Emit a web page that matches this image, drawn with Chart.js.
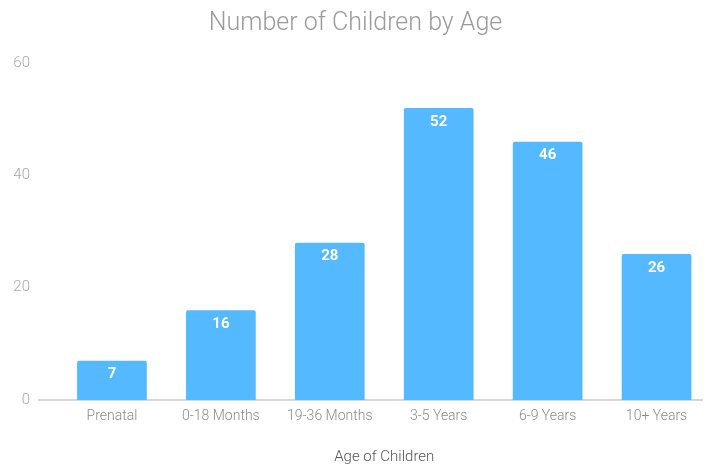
<!DOCTYPE html>
<html>
<head>
<meta charset="utf-8">
<title>Number of Children by Age</title>
<script src="https://cdn.jsdelivr.net/npm/chart.js@4"></script>
<style>
  html, body { margin: 0; padding: 0; background: #fff; }
  #wrap { width: 727px; height: 466px; }
</style>
</head>
<body>
<div id="wrap"><canvas id="ageChart" width="727" height="466"></canvas></div>
<script>
const ageGroups = ["Prenatal", "0-18 Months", "19-36 Months", "3-5 Years", "6-9 Years", "10+ Years"];
const childCounts = [7, 16, 28, 52, 46, 26];
const yTicks = [0, 20, 40, 60];

const barColor = "#54b9ff";

// white value printed near the top of each bar
const valueLabels = {
    id: "valueLabels",
    afterDatasetsDraw(chart) {
        const ctx = chart.ctx;
        const meta = chart.getDatasetMeta(0);
        ctx.save();
        ctx.fillStyle = "#ffffff";
        ctx.font = "bold 15px Roboto";
        ctx.textAlign = "center";
        ctx.textBaseline = "middle";
        meta.data.forEach((bar, i) => {
            ctx.fillText(childCounts[i], bar.x, bar.y + 14);
        });
        ctx.restore();
    }
};

// gray baseline at zero, running a bit left of the plot area
const baseline = {
    id: "baseline",
    beforeDatasetsDraw(chart) {
        const ctx = chart.ctx;
        const y = chart.scales.y.getPixelForValue(0);
        ctx.save();
        ctx.strokeStyle = "#c8c8c8";
        ctx.lineWidth = 1.5;
        ctx.beginPath();
        ctx.moveTo(38, y);
        ctx.lineTo(chart.chartArea.right - 8, y);
        ctx.stroke();
        ctx.restore();
    }
};

new Chart(document.getElementById("ageChart").getContext("2d"), {
    type: "bar",
    data: {
        labels: ageGroups,
        datasets: [{
            data: childCounts,
            backgroundColor: barColor,
            borderRadius: 2,
            borderSkipped: "bottom",
            categoryPercentage: 1,
            barPercentage: 0.64
        }]
    },
    options: {
        responsive: false,
        animation: false,
        layout: { padding: { left: 0, right: 16, top: 0, bottom: 0 } },
        plugins: {
            legend: { display: false },
            tooltip: { enabled: false },
            title: {
                display: true,
                text: "Number of Children by Age",
                color: "#9a9a9a",
                font: { family: "Roboto", size: 25, weight: "300" },
                padding: { top: 9, bottom: 24 }
            }
        },
        scales: {
            x: {
                grid: { display: false, drawTicks: false },
                border: { display: false },
                ticks: {
                    color: "#8a8a8a",
                    font: { family: "Roboto", size: 14, weight: "300" },
                    padding: 8,
                    maxRotation: 0
                },
                title: {
                    display: true,
                    text: "Age of Children",
                    color: "#555555",
                    font: { family: "Roboto", size: 15, weight: "300" },
                    padding: { top: 20, bottom: 0 }
                },
                afterFit(scale) { scale.height = 66; }
            },
            y: {
                min: 0,
                max: 60,
                grid: { display: false, drawTicks: false },
                border: { display: false },
                afterBuildTicks(scale) {
                    scale.ticks = yTicks.map(v => ({ value: v }));
                },
                ticks: {
                    color: "#a8a8a8",
                    font: { family: "Roboto", size: 15, weight: "300" },
                    padding: 27.5
                },
                afterFit(scale) { scale.width = 57.5; }
            }
        }
    },
    plugins: [baseline, valueLabels]
});
</script>
</body>
</html>
